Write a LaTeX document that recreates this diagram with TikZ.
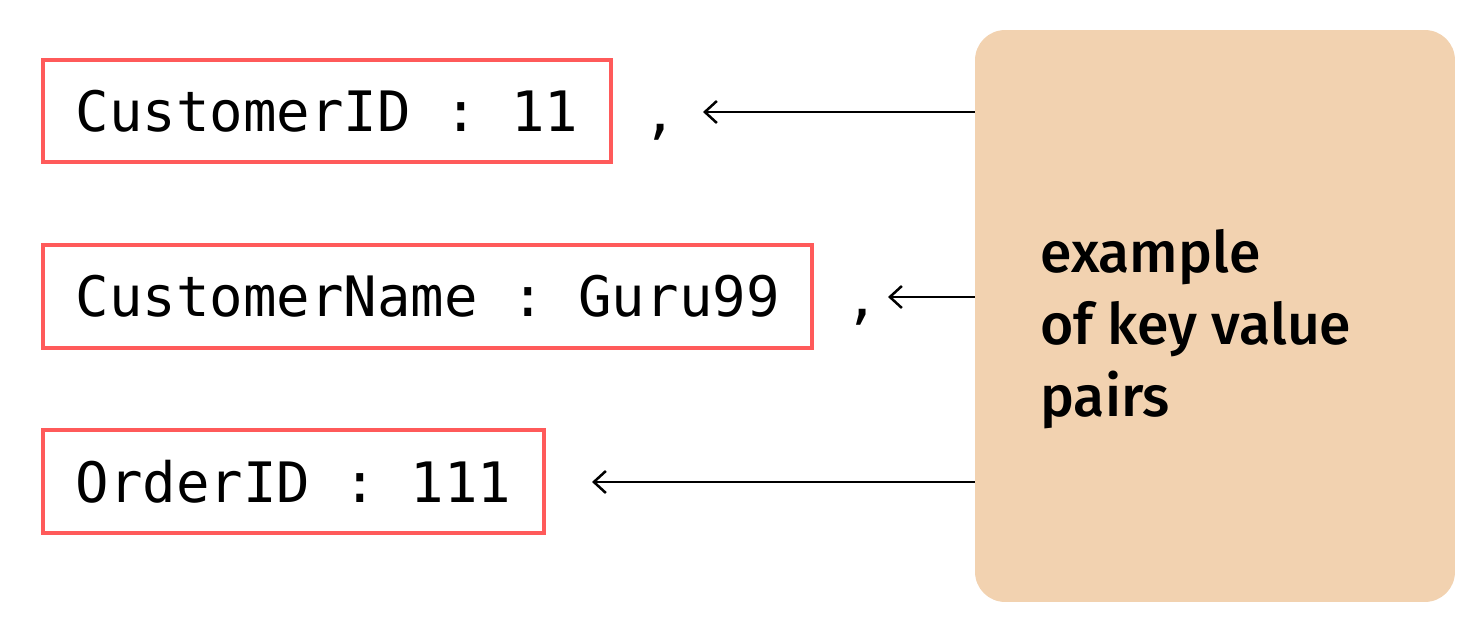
\documentclass[tikz,border=0pt]{standalone}
\usepackage{fontspec}
\setmonofont{DejaVu Sans Mono}
\newfontfamily\labelfont{Fira Sans}[BoldFont={* Medium}]
\usetikzlibrary{arrows.meta}

\definecolor{keyred}{HTML}{FF5A5A}
\definecolor{notebeige}{HTML}{F2D2B0}

\begin{document}
\begin{tikzpicture}[
  x=0.02cm, y=-0.02cm,
  kvbox/.style={draw=keyred, line width=0.08cm, anchor=west, inner xsep=0.65cm,
    minimum height=2.06cm, font=\ttfamily\fontsize{31.7}{38}\selectfont},
  sep/.style={inner sep=0pt, anchor=base, font=\ttfamily\fontsize{31.7}{38}\selectfont},
  note/.style={fill=notebeige, rounded corners=0.6cm, minimum width=9.6cm, minimum height=11.44cm},
  >={Straight Barb[length=0.24cm, width=0.44cm]},
]

\useasboundingbox (0,0) rectangle (1481,638);

\node [note] (info) at (1215,316) {};
\node [anchor=west, inner sep=0pt, align=left, font=\labelfont\bfseries\fontsize{32.5}{41}\selectfont]
  (infotext) at (1040,329) {example\\of key value\\pairs};

\node [kvbox] (key1) at (41,111) {CustomerID : 11};
\node [kvbox] (key2) at (41,296.5) {CustomerName : Guru99};
\node [kvbox] (key3) at (41,481.5) {OrderID : 111};

\node [sep] (comma1) at (660,133) {,};
\node [sep] (comma2) at (862,318) {,};

\coordinate (tip1) at (703,112);
\coordinate (tip2) at (888,297);
\coordinate (tip3) at (592,482);

\draw [line width=0.05cm, <-] (tip1) -- (tip1 -| info.west);
\draw [line width=0.05cm, <-] (tip2) -- (tip2 -| info.west);
\draw [line width=0.05cm, <-] (tip3) -- (tip3 -| info.west);

\end{tikzpicture}
\end{document}
